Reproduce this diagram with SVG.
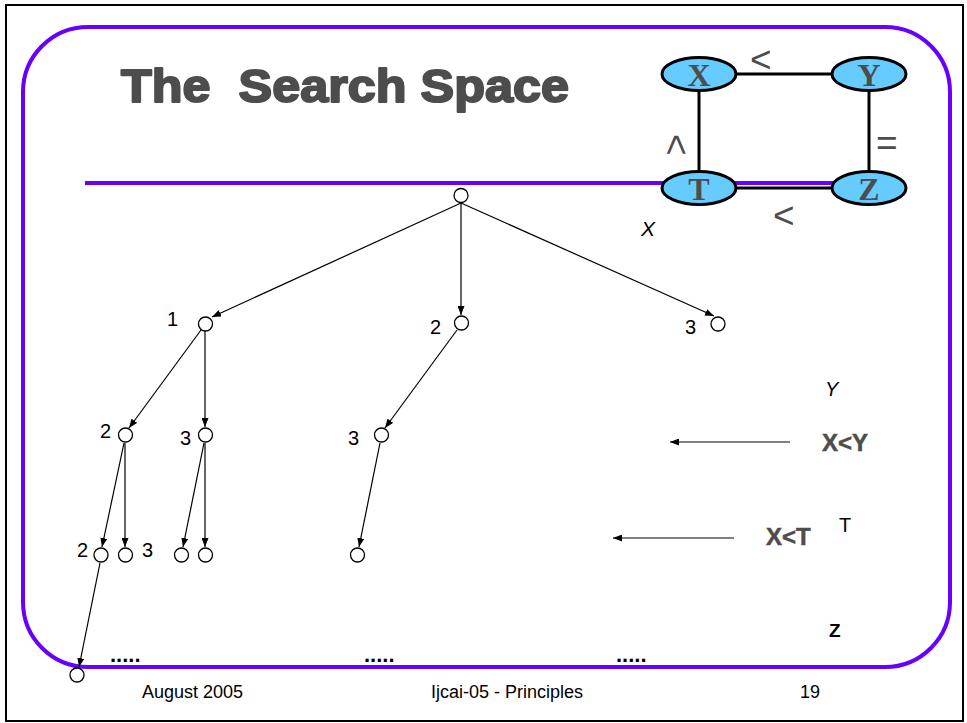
<svg xmlns="http://www.w3.org/2000/svg" width="967" height="723" viewBox="0 0 967 723">
<style>
.frame{fill:none;stroke:#000;stroke-width:2}
.purple{fill:none;stroke:#6600ff;stroke-width:4}
.tn{fill:#fff;stroke:#000;stroke-width:1.3}
.edge{stroke:#000;stroke-width:1.2;fill:none;marker-end:url(#ah)}
.cn{fill:#66ccff;stroke:#000;stroke-width:3}
.cl{stroke:#000;stroke-width:3}
.cv{font-family:"Liberation Serif",serif;font-weight:bold;font-size:32px;fill:#4d4d4d;text-anchor:middle}
.rel{font-family:"Liberation Sans",sans-serif;font-size:37px;fill:#4d4d4d}
.lab{font-family:"Liberation Sans",sans-serif;font-size:18px;fill:#000}
.dig{font-family:"Liberation Sans",sans-serif;font-size:20px;fill:#000}
.gb{font-family:"Liberation Sans",sans-serif;font-size:24px;font-weight:bold;fill:#4d4d4d;stroke:#4d4d4d;stroke-width:0.5}
.dots{font-family:"Liberation Sans",sans-serif;font-size:22px;font-weight:bold;fill:#000}
</style>
<defs>
<marker id="ah" markerUnits="userSpaceOnUse" markerWidth="9" markerHeight="7" refX="9" refY="3.5" orient="auto">
<path d="M0,0 L9,3.5 L0,7 z" fill="#000"/>
</marker>
</defs>
<rect width="967" height="723" fill="#fff"/>
<rect class="frame" x="6" y="5" width="957" height="716"/>
<rect class="purple" x="23" y="27" width="927" height="640" rx="65" ry="65"/>
<text x="121" y="102" font-family="Liberation Sans, Arial, sans-serif" font-weight="bold" font-size="46" fill="#4d4d4d" stroke="#4d4d4d" stroke-width="2" stroke-linejoin="round" textLength="448" lengthAdjust="spacingAndGlyphs" xml:space="preserve">The  Search Space</text>
<line x1="85" y1="183" x2="868" y2="183" stroke="#6600ff" stroke-width="4"/>

<g id="connectors">
<line class="cl" x1="737" y1="74" x2="832" y2="74"/>
<line class="cl" x1="699" y1="90" x2="699" y2="172"/>
<line class="cl" x1="869" y1="90" x2="869" y2="172"/>
<line class="cl" x1="737" y1="188" x2="832" y2="188"/>
<line class="edge" x1="461" y1="203" x2="212" y2="317"/>
<line class="edge" x1="461" y1="203" x2="461" y2="315"/>
<line class="edge" x1="461" y1="203" x2="714" y2="316"/>
<line class="edge" x1="201" y1="330" x2="129" y2="428"/>
<line class="edge" x1="205" y1="331" x2="205" y2="427"/>
<line class="edge" x1="457" y1="330" x2="385" y2="428"/>
<line class="edge" x1="124" y1="443" x2="102" y2="547"/>
<line class="edge" x1="125" y1="443" x2="125" y2="547"/>
<line class="edge" x1="204" y1="443" x2="183" y2="547"/>
<line class="edge" x1="205" y1="443" x2="205" y2="547"/>
<line class="edge" x1="380" y1="443" x2="359" y2="547"/>
<line class="edge" x1="100" y1="563" x2="79" y2="667"/>
<line class="edge" x1="790" y1="442" x2="670" y2="442"/>
<line class="edge" x1="734" y1="538" x2="613" y2="538"/>
</g>

<g id="cX"><ellipse class="cn" cx="699" cy="74" rx="37" ry="16.5"/><text class="cv" x="699" y="86">X</text></g>
<g id="cY"><ellipse class="cn" cx="869" cy="74" rx="37" ry="16.5"/><text class="cv" x="869" y="86">Y</text></g>
<g id="cT"><ellipse class="cn" cx="699" cy="188" rx="37" ry="16.5"/><text class="cv" x="699" y="200">T</text></g>
<g id="cZ"><ellipse class="cn" cx="869" cy="188" rx="37" ry="16.5"/><text class="cv" x="869" y="200">Z</text></g>
<g id="rels">
<text class="rel" x="750" y="72">&lt;</text>
<text class="rel" transform="translate(664,153) rotate(90)" x="-19" y="0">&lt;</text>
<text class="rel" x="876" y="155">=</text>
<text class="rel" x="773" y="228">&lt;</text>
<text x="641" y="236" font-family="Liberation Sans, sans-serif" font-style="italic" font-size="21" fill="#000">X</text>
</g>

<g id="n0"><circle class="tn" cx="461" cy="195.5" r="7"/></g>
<g id="n1"><circle class="tn" cx="205.5" cy="324" r="7"/><text class="dig" x="167" y="326">1</text></g>
<g id="n2"><circle class="tn" cx="461.5" cy="323" r="7"/><text class="dig" x="430" y="334">2</text></g>
<g id="n3"><circle class="tn" cx="718" cy="324" r="7"/><text class="dig" x="685" y="334">3</text></g>
<g id="n4"><circle class="tn" cx="125.5" cy="435" r="7"/><text class="dig" x="100" y="438">2</text></g>
<g id="n5"><circle class="tn" cx="205.5" cy="435" r="7"/><text class="dig" x="180" y="445">3</text></g>
<g id="n6"><circle class="tn" cx="381.5" cy="435" r="7"/><text class="dig" x="348" y="445">3</text></g>
<g id="n7"><circle class="tn" cx="101" cy="555" r="7"/><text class="dig" x="77" y="557">2</text></g>
<g id="n8"><circle class="tn" cx="125.5" cy="555" r="7"/><text class="dig" x="142" y="557">3</text></g>
<g id="n9"><circle class="tn" cx="181.5" cy="555" r="7"/></g>
<g id="n10"><circle class="tn" cx="205.5" cy="555" r="7"/></g>
<g id="n11"><circle class="tn" cx="357.5" cy="555" r="7"/></g>
<g id="n12"><circle class="tn" cx="77" cy="675" r="7"/></g>

<g id="side">
<text x="825" y="396" font-family="Liberation Sans, sans-serif" font-style="italic" font-size="20" fill="#000">Y</text>
<text class="gb" x="822" y="451">X&lt;Y</text>
<text x="839" y="532" font-family="Liberation Sans, sans-serif" font-size="20" fill="#000">T</text>
<text class="gb" x="766" y="545">X&lt;T</text>
<text x="829" y="637" font-family="Liberation Sans, sans-serif" font-weight="bold" font-size="19" fill="#000">Z</text>
</g>
<text class="dots" x="110" y="662">.....</text>
<text class="dots" x="364" y="662">.....</text>
<text class="dots" x="616" y="662">.....</text>

<g id="footer">
<text class="lab" x="142" y="698">August 2005</text>
<text class="lab" x="431" y="698">Ijcai-05 - Principles</text>
<text class="lab" x="800" y="698">19</text>
</g>
</svg>
